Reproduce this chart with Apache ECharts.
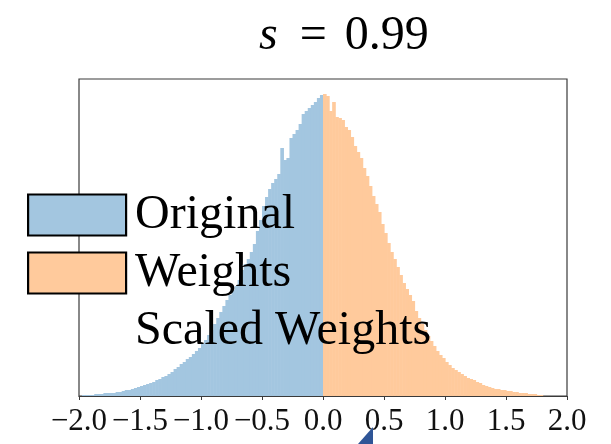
<!DOCTYPE html>
<html>
<head>
<meta charset="utf-8">
<script src="https://cdn.jsdelivr.net/npm/echarts@6/dist/echarts.min.js"></script>
<style>
html,body{margin:0;padding:0;background:#fff;}
#main{width:611px;height:444px;}
</style>
</head>
<body>
<div id="main"></div>
<script>
// Histogram bins: width 0.025, starting at -2.0
const binStart = -2.0;
const binWidth = 0.025;
// Original: bins from -2.0 to 0.0
const originalCounts = [
  0, 1, 1, 1, 1, 2, 2, 2, 3, 3,
  3, 3, 4, 4, 5, 6, 6, 7, 8, 9,
  10, 11, 12, 13, 14, 16, 17, 19, 20, 22,
  24, 27, 29, 32, 34, 37, 39, 42, 45, 48,
  52, 56, 61, 66, 72, 78, 84, 90, 96, 101,
  106, 110, 116, 126, 132, 137, 144, 152, 165, 176,
  190, 199, 207, 213, 217, 222, 248, 236, 238, 258,
  262, 266, 272, 282, 285, 288, 291, 294, 298, 301
];
// Weights: bins from 0.0 to 2.0
const weightsCounts = [
  302, 300, 285, 294, 279, 278, 276, 269, 266, 259,
  250, 244, 238, 228, 220, 210, 200, 192, 184, 172,
  163, 153, 144, 137, 129, 121, 113, 107, 101, 95,
  85, 78, 72, 66, 60, 55, 50, 45, 41, 38,
  34, 31, 28, 26, 24, 22, 20, 18, 17, 16,
  14, 13, 11, 10, 9, 8, 7, 7, 6, 6,
  5, 5, 4, 4, 3, 3, 3, 2, 2, 2,
  1, 1, 0, 0, 0, 0, 0, 0, 0, 0
];
const seriesNames = ['Original', 'Weights', 'Scaled Weights'];
const xTicks = [-2.0, -1.5, -1.0, -0.5, 0.0, 0.5, 1.0, 1.5, 2.0];
const titleValue = '0.99';

function toBins(counts, offsetBins) {
  return counts.map((c, i) => [
    binStart + (offsetBins + i) * binWidth,
    binStart + (offsetBins + i + 1) * binWidth,
    c
  ]);
}

function renderBin(params, api) {
  const p0 = api.coord([api.value(0), api.value(2)]);
  const p1 = api.coord([api.value(1), 0]);
  return {
    type: 'rect',
    shape: { x: p0[0], y: p0[1], width: p1[0] - p0[0] + 0.6, height: p1[1] - p0[1] },
    style: api.style()
  };
}

const chart = echarts.init(document.getElementById('main'), null, { renderer: 'canvas' });
chart.setOption({
  animation: false,
  backgroundColor: '#ffffff',
  title: {
    text: '{i|s}{e|=}{n|' + titleValue + '}',
    left: 254,
    top: 7,
    textStyle: {
      rich: {
        i: { fontFamily: 'Liberation Serif', fontStyle: 'italic', fontWeight: 'normal', fontSize: 48, color: '#000' },
        e: { fontFamily: 'Liberation Serif', fontWeight: 'normal', fontSize: 48, color: '#000', padding: [0, 18, 0, 22] },
        n: { fontFamily: 'Liberation Serif', fontWeight: 'normal', fontSize: 48, color: '#000' }
      }
    }
  },
  legend: {
    orient: 'vertical',
    left: 27,
    top: 191,
    padding: 0,
    itemWidth: 98,
    itemHeight: 41,
    itemGap: 10,
    icon: 'rect',
    selectedMode: false,
    itemStyle: { borderColor: '#000', borderWidth: 2.2 },
    textStyle: { fontFamily: 'Liberation Serif', fontSize: 48, color: '#000', padding: [0, 0, 0, 4] },
    data: [
      { name: seriesNames[0] },
      { name: seriesNames[1] },
      { name: seriesNames[2], itemStyle: { color: 'rgba(0,0,0,0)', borderColor: 'rgba(0,0,0,0)', borderWidth: 0 } }
    ]
  },
  grid: {
    left: 79, right: 44, top: 79, bottom: 48,
    show: true, borderColor: '#3a3a3a', borderWidth: 1.2, backgroundColor: 'transparent'
  },
  xAxis: {
    type: 'value',
    min: -2,
    max: 2,
    interval: 0.5,
    axisLine: { show: true, onZero: false, lineStyle: { color: '#3a3a3a', width: 1.2 } },
    axisTick: { show: true, inside: false, length: 4, lineStyle: { color: '#3a3a3a', width: 1 } },
    splitLine: { show: false },
    axisLabel: {
      show: true,
      margin: 10,
      fontFamily: 'Liberation Serif',
      fontSize: 31,
      color: '#111',
      formatter: function (v) {
        const t = xTicks.find(x => Math.abs(x - v) < 1e-9);
        if (t === undefined) return '';
        const s = Math.abs(t).toFixed(1);
        return t < 0 ? '\u2212' + s : s;
      }
    }
  },
  yAxis: {
    type: 'value',
    min: 0,
    max: 317,
    show: false,
    splitLine: { show: false }
  },
  series: [
    {
      name: seriesNames[0],
      type: 'custom',
      renderItem: renderBin,
      encode: { x: [0, 1], y: 2 },
      itemStyle: { color: '#a3c6e0' },
      data: toBins(originalCounts, 0)
    },
    {
      name: seriesNames[1],
      type: 'custom',
      renderItem: renderBin,
      encode: { x: [0, 1], y: 2 },
      itemStyle: { color: '#ffca9c' },
      data: toBins(weightsCounts, originalCounts.length)
    },
    {
      name: seriesNames[2],
      type: 'custom',
      renderItem: renderBin,
      encode: { x: [0, 1], y: 2 },
      itemStyle: { color: 'rgba(0,0,0,0)' },
      data: []
    }
  ],
  graphic: [
    {
      type: 'polygon',
      shape: { points: [[358, 444], [373, 444], [373, 427]] },
      style: { fill: '#2f5597' },
      z: 100
    }
  ]
});
</script>
</body>
</html>
